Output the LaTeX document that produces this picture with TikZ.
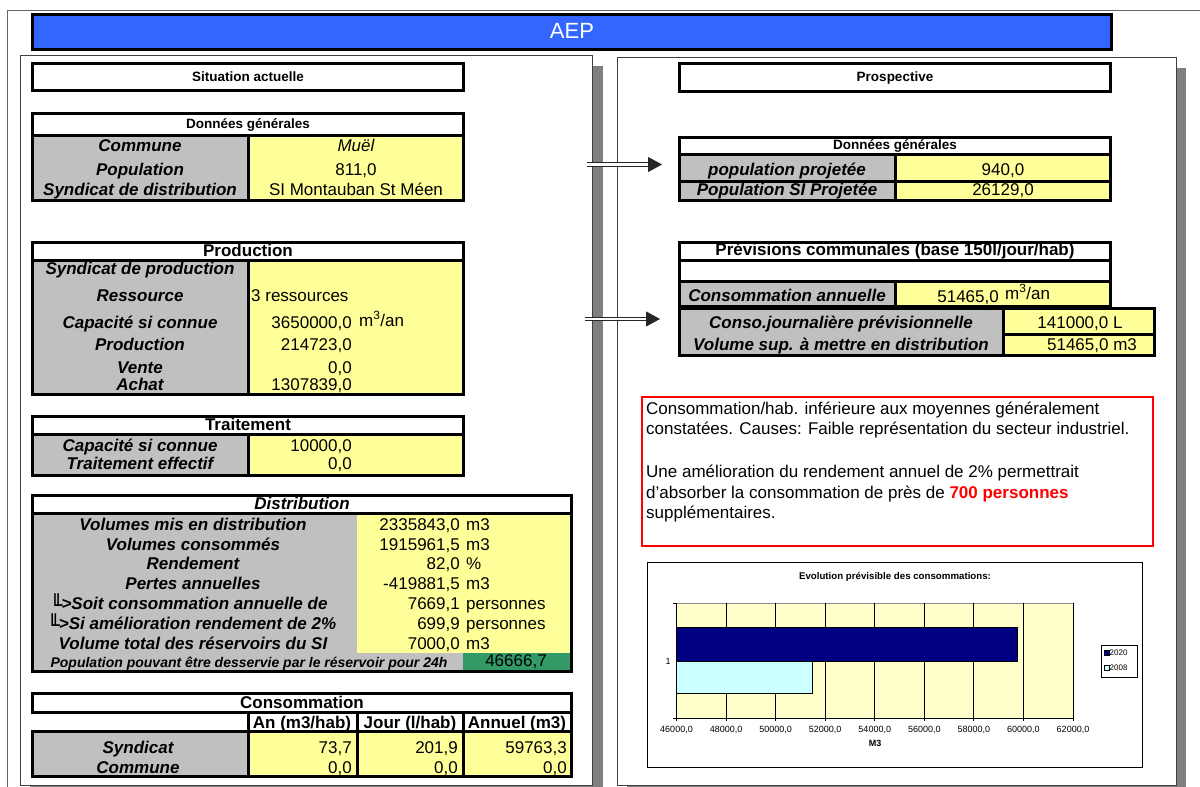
\documentclass[tikz,border=0pt]{standalone}
\usepackage{fontspec}
\setmainfont{Liberation Sans}
\newfontfamily\boxfont{DejaVu Sans Mono}
\usetikzlibrary{arrows.meta}
\definecolor{cellgray}{HTML}{C0C0C0}
\definecolor{cellyel}{HTML}{FFFF99}
\definecolor{cellgrn}{HTML}{339966}
\definecolor{titleblue}{HTML}{3366FF}
\definecolor{shadgray}{HTML}{808080}
\definecolor{barnavy}{HTML}{000080}
\definecolor{barcyan}{HTML}{CCFFFF}
\definecolor{plotyel}{HTML}{FFFFCC}
\definecolor{alertred}{HTML}{FF0000}
\newcommand\fLbl{\fontsize{17}{19}\selectfont\bfseries\itshape}
\newcommand\fVal{\fontsize{17}{19}\selectfont}
\newcommand\fHdr{\fontsize{17}{19}\selectfont\bfseries}
\newcommand\fSmh{\fontsize{13.5}{15}\selectfont\bfseries}
\newcommand\fChart{\fontsize{9}{10}\selectfont}
\newcommand\mkhook{\kern-4pt\raisebox{-3pt}{\boxfont\mdseries\upshape\fontsize{20}{20}\selectfont ╙}\kern-1pt}
\begin{document}
\begin{tikzpicture}[x=1pt,y=-1pt,
  lbl/.style={inner sep=0pt, anchor=mid, yshift=-3.5pt, font=\fLbl},
  val/.style={inner sep=0pt, anchor=mid, yshift=-3.5pt, font=\fVal},
  valr/.style={val, anchor=mid east},
  vall/.style={val, anchor=mid west},
  hdr/.style={inner sep=0pt, anchor=mid, yshift=-3.5pt, font=\fHdr},
  shdr/.style={inner sep=0pt, anchor=mid, yshift=-2pt, font=\fSmh},
  bx/.style={draw=black, line width=3pt},
  gcell/.style={fill=cellgray},
  ycell/.style={fill=cellyel},
  panel/.style={fill=white, draw=black!75, line width=1pt},
  shadowbox/.style={fill=shadgray},
  note/.style={inner sep=0pt, anchor=base west, font=\fontsize{17}{21}\selectfont},
  chartlbl/.style={inner sep=0pt, anchor=mid, font=\fChart},
  dbarrow/.style={draw=black!85, double=white, double distance=2.6pt, line width=0.9pt, -{Triangle[length=14pt,width=15pt]}}
]
\useasboundingbox (0,0) rectangle (1200,787);
\fill[white] (0,0) rectangle (1200,787);

% outer frame
\draw[draw=black!60, line width=1.2pt] (7.5,787) -- (7.5,10.5) -- (1200,10.5);

% title bar
\draw[bx, fill=titleblue] (32,14.5) rectangle (1111,49.5);
\node[inner sep=0pt, anchor=mid, yshift=-4pt, font=\fontsize{22}{24}\selectfont, text=white] (title) at (572,32) {AEP};

% panels
\fill[shadowbox] (30,65.5) rectangle (602.5,787);
\draw[panel] (20,55.5) rectangle (592,785.5);
\fill[shadowbox] (627,68) rectangle (1186,787);
\draw[panel] (617.5,57.5) rectangle (1176,785.5);

% ---------------- LEFT PANEL ----------------
% Situation actuelle
\draw[bx, fill=white] (32.5,63.5) rectangle (463.5,90.5);
\node[shdr] (sit) at (248,77) {Situation actuelle};

% Donnees generales (left)
\fill[white] (32.5,113.5) rectangle (463.5,135);
\fill[gcell] (32.5,135) rectangle (248,200.5);
\fill[ycell] (248,135) rectangle (463.5,200.5);
\node[shdr] (dgl-h) at (248,124) {Données générales};
\node[lbl] (dgl-l1) at (140,145) {Commune};
\node[lbl] (dgl-l2) at (140,169) {Population};
\node[lbl] (dgl-l3) at (140,189) {Syndicat de distribution};
\node[val, font=\fVal\itshape] (dgl-v1) at (356,145) {Muël};
\node[val] (dgl-v2) at (356,169) {811,0};
\node[val] (dgl-v3) at (356,189) {SI Montauban St Méen};
\draw[bx] (32.5,113.5) rectangle (463.5,200.5);
\draw[bx] (32.5,135) -- (463.5,135);
\draw[bx] (248,135) -- (248,200.5);

% Production
\fill[white] (32.5,242.5) rectangle (463.5,260.5);
\fill[gcell] (32.5,260.5) rectangle (248,394.5);
\fill[ycell] (248,260.5) rectangle (463.5,394.5);
\node[hdr] (pr-h) at (248,250) {Production};
\node[lbl] (pr-l1) at (140,268) {Syndicat de production};
\node[lbl] (pr-l2) at (140,295) {Ressource};
\node[lbl] (pr-l3) at (140,322) {Capacité si connue};
\node[lbl] (pr-l4) at (140,344) {Production};
\node[lbl] (pr-l5) at (140,367) {Vente};
\node[lbl] (pr-l6) at (140,384) {Achat};
\node[vall] (pr-v2) at (251,295) {3 ressources};
\node[valr] (pr-v3) at (352,322) {3650000,0};
\node[vall] (pr-u3) at (359,320) {m\textsuperscript{3}/an};
\node[valr] (pr-v4) at (352,344) {214723,0};
\node[valr] (pr-v5) at (352,367) {0,0};
\node[valr] (pr-v6) at (352,384) {1307839,0};
\draw[bx] (32.5,242.5) rectangle (463.5,394.5);
\draw[bx] (32.5,260.5) -- (463.5,260.5);
\draw[bx] (248,260.5) -- (248,394.5);

% Traitement
\fill[white] (32.5,416.5) rectangle (463.5,434.5);
\fill[gcell] (32.5,434.5) rectangle (248,475);
\fill[ycell] (248,434.5) rectangle (463.5,475);
\node[hdr] (tr-h) at (248,424) {Traitement};
\node[lbl] (tr-l1) at (140,445) {Capacité si connue};
\node[lbl] (tr-l2) at (140,463) {Traitement effectif};
\node[valr] (tr-v1) at (352,445) {10000,0};
\node[valr] (tr-v2) at (352,463) {0,0};
\draw[bx] (32.5,416.5) rectangle (463.5,475);
\draw[bx] (32.5,434.5) -- (463.5,434.5);
\draw[bx] (248,434.5) -- (248,475);

% Distribution
\fill[white] (32.5,495.5) rectangle (571.5,513.5);
\fill[gcell] (32.5,513.5) rectangle (571.5,671.5);
\fill[ycell] (357,513.5) rectangle (571.5,653);
\fill[cellgrn] (463,653) rectangle (571.5,671.5);
\node[lbl] (di-h) at (302,503) {Distribution};
\node[lbl] (di-l1) at (193,524) {Volumes mis en distribution};
\node[lbl] (di-l2) at (193,544) {Volumes consommés};
\node[lbl] (di-l3) at (193,563) {Rendement};
\node[lbl] (di-l4) at (193,583) {Pertes annuelles};
\node[lbl] (di-l5) at (191,603) {\mkhook>Soit consommation annuelle de};
\node[lbl] (di-l6) at (194,623) {\mkhook>Si amélioration rendement de 2\%};
\node[lbl] (di-l7) at (193,643) {Volume total des réservoirs du SI};
\node[lbl, font=\fontsize{14}{15}\selectfont\bfseries\itshape, yshift=1pt] (di-l8) at (249,662) {Population pouvant être desservie par le réservoir pour 24h};
\node[valr] (di-v1) at (460,524) {2335843,0};
\node[vall] (di-u1) at (466,524) {m3};
\node[valr] (di-v2) at (460,544) {1915961,5};
\node[vall] (di-u2) at (466,544) {m3};
\node[valr] (di-v3) at (460,563) {82,0};
\node[vall] (di-u3) at (466,563) {\%};
\node[valr] (di-v4) at (460,583) {-419881,5};
\node[vall] (di-u4) at (466,583) {m3};
\node[valr] (di-v5) at (460,603) {7669,1};
\node[vall] (di-u5) at (466,603) {personnes};
\node[valr] (di-v6) at (460,623) {699,9};
\node[vall] (di-u6) at (466,623) {personnes};
\node[valr] (di-v7) at (460,643) {7000,0};
\node[vall] (di-u7) at (466,643) {m3};
\node[val] (di-v8) at (516,660) {46666,7};
\draw[bx] (32.5,495.5) rectangle (571.5,671.5);
\draw[bx] (32.5,513.5) -- (571.5,513.5);

% Consommation
\fill[white] (32.5,693.5) rectangle (571.5,712);
\fill[gcell] (32.5,731) rectangle (248,776.5);
\fill[ycell] (248,731) rectangle (571.5,776.5);
\node[hdr] (co-h) at (302,702) {Consommation};
\node[hdr] (co-c1) at (302,722) {An (m3/hab)};
\node[hdr] (co-c2) at (410,722) {Jour (l/hab)};
\node[hdr] (co-c3) at (517,722) {Annuel (m3)};
\node[lbl] (co-l1) at (138,747) {Syndicat};
\node[lbl] (co-l2) at (138,767) {Commune};
\node[valr] (co-v11) at (352,747) {73,7};
\node[valr] (co-v12) at (458,747) {201,9};
\node[valr] (co-v13) at (567,747) {59763,3};
\node[valr] (co-v21) at (352,767) {0,0};
\node[valr] (co-v22) at (458,767) {0,0};
\node[valr] (co-v23) at (567,767) {0,0};
\draw[bx] (32.5,693.5) rectangle (571.5,712);
\draw[bx] (248,712) rectangle (357,731);
\draw[bx] (357,712) rectangle (463,731);
\draw[bx] (463,712) rectangle (571.5,731);
\draw[bx] (32.5,731) rectangle (571.5,776.5);
\draw[bx] (248,731) -- (248,776.5);
\draw[bx] (357,731) -- (357,776.5);
\draw[bx] (463,731) -- (463,776.5);

% ---------------- RIGHT PANEL ----------------
\draw[bx, fill=white] (679.5,63.5) rectangle (1110.5,91.5);
\node[shdr] (prosp) at (895,77) {Prospective};

% Donnees generales (right)
\fill[white] (679.5,137) rectangle (1110.5,154.5);
\fill[gcell] (679.5,154.5) rectangle (895,200.5);
\fill[ycell] (895,154.5) rectangle (1110.5,200.5);
\node[shdr] (dgr-h) at (895,145) {Données générales};
\node[lbl] (dgr-l1) at (787,169) {population projetée};
\node[lbl] (dgr-l2) at (787,189) {Population SI Projetée};
\node[val] (dgr-v1) at (1003,169) {940,0};
\node[val] (dgr-v2) at (1003,189) {26129,0};
\draw[bx] (679.5,137) rectangle (1110.5,200.5);
\draw[bx] (679.5,154.5) -- (1110.5,154.5);
\draw[bx] (679.5,181) -- (1110.5,181);
\draw[bx] (895,154.5) -- (895,200.5);

% Previsions communales
\fill[white] (679.5,242.5) rectangle (1110.5,281);
\fill[gcell] (679.5,281) rectangle (895,306.5);
\fill[ycell] (895,281) rectangle (1110.5,306.5);
\node[hdr] (pv-h) at (895,249) {Prévisions communales (base 150l/jour/hab)};
\node[lbl] (pv-l1) at (787,295) {Consommation annuelle};
\node[valr] (pv-v1) at (999,296) {51465,0};
\node[vall] (pv-u1) at (1005,293) {m\textsuperscript{3}/an};
\draw[bx] (679.5,242.5) rectangle (1110.5,306.5);
\draw[bx] (679.5,260.5) -- (1110.5,260.5);
\draw[bx] (679.5,281) -- (1110.5,281);
\draw[bx] (895,281) -- (895,306.5);

% Conso block
\fill[gcell] (679.5,308.5) rectangle (1003,355.5);
\fill[ycell] (1003,308.5) rectangle (1154,355.5);
\node[lbl] (cj-l1) at (841,322) {Conso.journalière prévisionnelle};
\node[lbl] (cj-l2) at (841,344) {Volume sup. à mettre en distribution};
\node[val] (cj-v1) at (1080,322) {141000,0 L};
\node[val] (cj-v2) at (1092,344) {51465,0 m3};
\draw[bx] (679.5,308.5) rectangle (1154,355.5);
\draw[bx] (1003,308.5) -- (1003,355.5);
\draw[bx] (1003,334) -- (1154,334);

% arrows
\coordinate (a1s) at (587,164.5);
\coordinate (a1e) at (662,164.5);
\coordinate (a2s) at (585,319);
\coordinate (a2e) at (660,319);
\draw[dbarrow] (a1s) -- (a1e);
\draw[dbarrow] (a2s) -- (a2e);

% note box
\draw[draw=alertred, line width=2pt] (641.5,396.5) rectangle (1152.5,545.5);
\node[note] (nt1) at (646,414) {Consommation/hab. inférieure aux moyennes généralement};
\node[note] (nt2) at (646,434.5) {constatées. Causes: Faible représentation du secteur industriel.};
\node[note] (nt3) at (646,477) {Une amélioration du rendement annuel de 2\% permettrait};
\node[note] (nt4) at (646,498) {d'absorber la consommation de près de {\color{alertred}\bfseries 700 personnes}};
\node[note] (nt5) at (646,518.5) {supplémentaires.};

% chart
\draw[fill=white, draw=black, line width=0.8pt] (647.5,562) rectangle (1142.5,767);
\node[inner sep=0pt, anchor=mid, font=\fontsize{9.7}{11}\selectfont\bfseries] (ctitle) at (895,577) {Evolution prévisible des consommations:};
\fill[plotyel] (676.5,603) rectangle (1073,718);
\draw[black!45, line width=0.8pt] (676.5,603) -- (1073,603);
\foreach \i in {1,...,8}{\draw[black, line width=0.8pt] ({676.5+\i*49.5625},603) -- ({676.5+\i*49.5625},721);}
\draw[black, line width=0.8pt] (676.5,718) -- (1073,718);
\draw[black, line width=0.8pt] (673,603) -- (676.5,603) -- (676.5,721);
\draw[black, line width=0.8pt] (673,718) -- (676.5,718);
\draw[fill=barnavy, draw=black, line width=0.8pt] (676.5,627) rectangle (1017.6,661);
\draw[fill=barcyan, draw=black, line width=0.8pt] (676.5,661) rectangle (811.9,693);
\foreach \i/\vv in {0/46000,1/48000,2/50000,3/52000,4/54000,5/56000,6/58000,7/60000,8/62000}{
  \node[chartlbl] (xl\i) at ({676.5+\i*49.5625},730) {\vv,0};
}
\node[chartlbl] (cat1) at (668,662) {1};
\node[chartlbl, font=\fChart\bfseries] (xtitle) at (875,744) {M3};
\draw[fill=white, draw=black, line width=0.8pt] (1101.5,645) rectangle (1137.5,677);
\draw[fill=barnavy, draw=black, line width=0.6pt] (1104,650.5) rectangle (1109,655.5);
\node[inner sep=0pt, anchor=mid west, font=\fontsize{8}{9}\selectfont] (leg1) at (1109.5,653) {2020};
\draw[fill=barcyan, draw=black, line width=0.6pt] (1104,665.5) rectangle (1109,670.5);
\node[inner sep=0pt, anchor=mid west, font=\fontsize{8}{9}\selectfont] (leg2) at (1109.5,668) {2008};
\end{tikzpicture}
\end{document}
